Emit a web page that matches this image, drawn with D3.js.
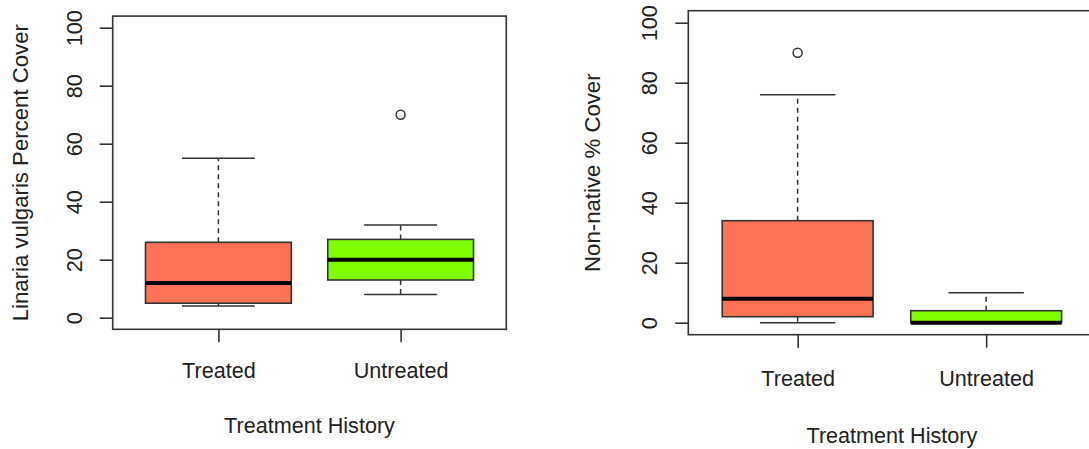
<!DOCTYPE html>
<html>
<head>
<meta charset="utf-8">
<script src="https://cdn.jsdelivr.net/npm/d3@7"></script>
<style>
  body { margin: 0; background: #fff; }
  text { font-family: "Liberation Sans", Arial, sans-serif; fill: #222; }
</style>
</head>
<body>
<script>
const groups = ["Treated", "Untreated"];
const yTicks = [0, 20, 40, 60, 80, 100];
const groupColors = ["#FF7256", "#7FFF00"];

// [lower whisker, Q1, median, Q3, upper whisker]
const linariaStats = [[4, 5, 12, 26, 55], [8, 13, 20, 27, 32]];
const linariaOutliers = [[], [70]];
const nonnativeStats = [[0, 2, 8, 34, 76], [0, 0, 0, 4, 10]];
const nonnativeOutliers = [[90], []];

const width = 1089;
const height = 449;

const svg = d3.select("body")
  .append("svg")
    .attr("width", width)
    .attr("height", height)
    .attr("viewBox", [0, 0, width, height]);

function boxPanel(opts) {
  const {left, right, top, bottom, stats, outliers, yTitle, titleX, tickLabelY, xTitleY} = opts;

  const x = d3.scaleLinear().domain([0.42, 2.58]).range([left, right]);
  const y = d3.scaleLinear().domain([-4, 104]).range([bottom, top]);
  const unit = x(1) - x(0);
  const boxW = 0.8 * unit;
  const capW = boxW / 2;

  const g = svg.append("g");

  const data = groups.map((name, i) => ({
    name, i, pos: i + 1, s: stats[i], out: outliers[i], color: groupColors[i]
  }));

  const box = g.selectAll("g.box").data(data).join("g").attr("class", "box");

  // whiskers (dashed)
  box.append("line")
    .attr("x1", d => x(d.pos)).attr("x2", d => x(d.pos))
    .attr("y1", d => y(d.s[3])).attr("y2", d => y(d.s[4]))
    .attr("stroke", "#333").attr("stroke-width", 1.5).attr("stroke-dasharray", "5,4");
  box.append("line")
    .attr("x1", d => x(d.pos)).attr("x2", d => x(d.pos))
    .attr("y1", d => y(d.s[1])).attr("y2", d => y(d.s[0]))
    .attr("stroke", "#333").attr("stroke-width", 1.5).attr("stroke-dasharray", "5,4");

  // staples
  [0, 4].forEach(k => {
    box.append("line")
      .attr("x1", d => x(d.pos) - capW / 2).attr("x2", d => x(d.pos) + capW / 2)
      .attr("y1", d => y(d.s[k])).attr("y2", d => y(d.s[k]))
      .attr("stroke", "#333").attr("stroke-width", 1.5);
  });

  // box
  box.append("rect")
    .attr("x", d => x(d.pos) - boxW / 2)
    .attr("width", boxW)
    .attr("y", d => y(d.s[3]))
    .attr("height", d => Math.max(y(d.s[1]) - y(d.s[3]), 1))
    .attr("fill", d => d.color)
    .attr("stroke", "#333").attr("stroke-width", 1.6);

  // median
  box.append("line")
    .attr("x1", d => x(d.pos) - boxW / 2).attr("x2", d => x(d.pos) + boxW / 2)
    .attr("y1", d => y(d.s[2])).attr("y2", d => y(d.s[2]))
    .attr("stroke", "#000").attr("stroke-width", 4);

  // outliers
  box.selectAll("circle").data(d => d.out.map(v => ({v, pos: d.pos}))).join("circle")
    .attr("cx", d => x(d.pos)).attr("cy", d => y(d.v)).attr("r", 4.5)
    .attr("fill", "none").attr("stroke", "#333").attr("stroke-width", 1.5);

  // frame
  g.append("rect")
    .attr("x", left).attr("y", top)
    .attr("width", right - left).attr("height", bottom - top)
    .attr("fill", "none").attr("stroke", "#333").attr("stroke-width", 1.6);

  // y axis
  g.append("g")
    .attr("transform", `translate(${left},0)`)
    .call(d3.axisLeft(y).tickValues(yTicks).tickSize(13).tickSizeOuter(0))
    .call(a => a.select(".domain").remove())
    .call(a => a.selectAll(".tick line").attr("stroke", "#333").attr("stroke-width", 1.6))
    .call(a => a.selectAll(".tick text")
      .attr("transform", "rotate(-90)")
      .attr("x", 0).attr("y", -31).attr("dy", null)
      .attr("text-anchor", "middle")
      .style("font-size", "21.6px")
      .style("font-family", "'Liberation Sans', Arial, sans-serif")
      .attr("fill", "#222"));

  // x axis
  g.append("g")
    .attr("transform", `translate(0,${bottom})`)
    .call(d3.axisBottom(x).tickValues([1, 2]).tickSize(13).tickFormat(d => groups[d - 1]))
    .call(a => a.select(".domain").remove())
    .call(a => a.selectAll(".tick line").attr("stroke", "#333").attr("stroke-width", 1.6))
    .call(a => a.selectAll(".tick text")
      .attr("y", tickLabelY).attr("dy", null)
      .style("font-size", "21.6px")
      .style("font-family", "'Liberation Sans', Arial, sans-serif")
      .attr("fill", "#222"));

  // x title
  g.append("text")
    .attr("x", (left + right) / 2)
    .attr("y", xTitleY)
    .attr("text-anchor", "middle")
    .style("font-size", "21.6px")
    .text("Treatment History");

  // y title
  g.append("text")
    .attr("transform", `translate(${titleX},${(top + bottom) / 2}) rotate(-90)`)
    .attr("text-anchor", "middle")
    .style("font-size", "22.2px")
    .text(yTitle);
}

boxPanel({
  left: 112.7, right: 506.3, top: 16.1, bottom: 329.3,
  stats: linariaStats, outliers: linariaOutliers,
  yTitle: "Linaria vulgaris Percent Cover",
  titleX: 28, tickLabelY: 49, xTitleY: 433
});

boxPanel({
  left: 688.3, right: 1095.5, top: 10.7, bottom: 334.7,
  stats: nonnativeStats, outliers: nonnativeOutliers,
  yTitle: "Non-native % Cover",
  titleX: 600, tickLabelY: 51, xTitleY: 443
});
</script>
</body>
</html>
